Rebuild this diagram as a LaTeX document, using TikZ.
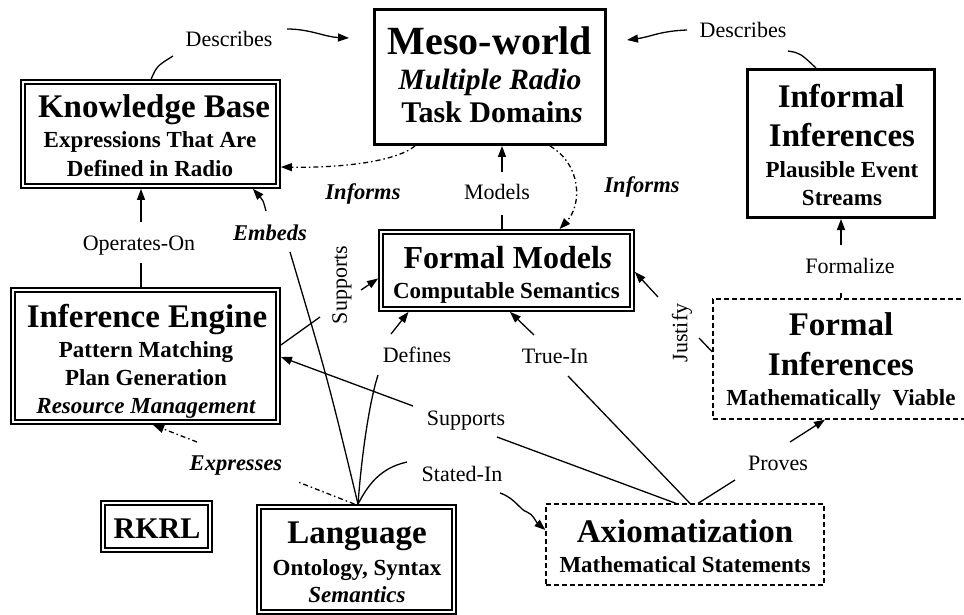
\documentclass[tikz,border=0pt]{standalone}
\usepackage{fontspec}
\setmainfont{Liberation Serif}
\usetikzlibrary{arrows.meta}

\tikzset{
  tbox/.style={draw, line width=3pt, inner sep=0pt, outer sep=1.5pt},
  dbox/.style={draw, double=white, double distance=2.6pt, line width=1.6pt, inner sep=0pt, outer sep=2.9pt},
  kbox/.style={draw, line width=1.3pt, dash pattern=on 5pt off 3pt, inner sep=0pt, outer sep=0.6pt},
  big/.style={font=\fontsize{33}{33}\selectfont\bfseries, inner sep=0pt, anchor=base},
  sub/.style={font=\fontsize{23}{23}\selectfont\bfseries, inner sep=0pt, anchor=base},
  lbl/.style={font=\fontsize{22}{22}\selectfont, inner sep=0pt, anchor=base},
  ilbl/.style={font=\fontsize{22.5}{22.5}\selectfont\bfseries\itshape, inner sep=0pt, anchor=base},
  conn/.style={line width=1.3pt},
  arr/.style={conn, -{Triangle[length=11pt,width=8pt]}},
  dd/.style={conn, dash pattern=on 5pt off 3pt on 1.5pt off 3pt},
}

\begin{document}
\begin{tikzpicture}[x=1pt, y=-1pt]
\fill[white] (0,0) rectangle (964,615);
\useasboundingbox (0,0) rectangle (964,615);

% ---- boxes ----
\node[tbox, minimum width=231pt, minimum height=135pt] (meso) at (490,77) {};
\node[dbox, minimum width=255pt, minimum height=104pt] (kb) at (150.5,134) {};
\node[dbox, minimum width=251pt, minimum height=77pt] (fm) at (506.5,270.5) {};
\node[dbox, minimum width=265pt, minimum height=132pt] (ie) at (145.5,356) {};
\node[dbox, minimum width=107pt, minimum height=47pt] (rkrl) at (156.5,526.5) {};
\node[dbox, minimum width=195pt, minimum height=105pt] (lang) at (356.5,559.5) {};
\node[kbox, minimum width=278pt, minimum height=81pt] (axio) at (685,544.5) {};
\node[kbox, minimum width=256pt, minimum height=120pt] (finf) at (841,359) {};
\node[tbox, minimum width=187pt, minimum height=148pt] (inf) at (841,143.5) {};

% ---- box texts ----
\node[big, font=\fontsize{40}{40}\selectfont\bfseries] (meso1) at (490,55) {Meso-world};
\node[sub, font=\fontsize{29.5}{29.5}\selectfont\bfseries\itshape] (meso2) at (490,90) {Multiple Radio};
\node[sub, font=\fontsize{30}{30}\selectfont\bfseries] (meso3) at (492,123) {Task Domain\textit{s}};

\node[big] (kb1) at (154,118) {Knowledge Base};
\node[sub] (kb2) at (150,148) {Expressions That Are};
\node[sub] (kb3) at (150,177) {Defined in Radio};

\node[big, font=\fontsize{32}{32}\selectfont\bfseries] (fm1) at (508,268) {Formal Model\textit{s}};
\node[sub] (fm2) at (506.5,298) {Computable Semantics};

\node[big] (ie1) at (147,327) {Inference Engine};
\node[sub] (ie2) at (146,357) {Pattern Matching};
\node[sub] (ie3) at (146,385) {Plan Generation};
\node[sub, font=\fontsize{23}{23}\selectfont\bfseries\itshape] (ie4) at (146,413) {Resource Management};

\node[big, font=\fontsize{30}{30}\selectfont\bfseries] (rkrl1) at (157,538) {RKRL};

\node[big] (lang1) at (357,543) {Language};
\node[sub] (lang2) at (357,575) {Ontology, Syntax};
\node[sub, font=\fontsize{23}{23}\selectfont\bfseries\itshape] (lang3) at (357,602) {Semantics};

\node[big] (axio1) at (685,542) {Axiomatization};
\node[sub] (axio2) at (685,572) {Mathematical Statements};

\node[big] (finf1) at (841,335) {Formal};
\node[big] (finf2) at (841,375) {Inferences};
\node[sub] (finf3) at (841,405) {Mathematically\ \ Viable};

\node[big] (inf1) at (841,108) {Informal};
\node[big] (inf2) at (842,147) {Inferences};
\node[sub] (inf3) at (842,178) {Plausible Event};
\node[sub] (inf4) at (842,205) {Streams};

% ---- connector labels ----
\node[lbl] (ldl) at (229,47) {Describes};
\node[lbl] (ldr) at (743,38) {Describes};
\node[ilbl] (linl) at (363,200) {Informs};
\node[ilbl] (linr) at (642,193) {Informs};
\node[lbl] (lmod) at (497,200) {Models};
\node[lbl] (lop) at (139,250) {Operates-On};
\node[ilbl] (lemb) at (270,240) {Embeds};
\node[lbl, rotate=90, anchor=center] (lsv) at (342,285) {Supports};
\node[lbl] (ldef) at (417,362) {Defines};
\node[lbl] (lsh) at (466,425) {Supports};
\node[lbl] (ltru) at (555,363) {True-In};
\node[lbl] (lsta) at (462,481) {Stated-In};
\node[lbl] (lpro) at (778,470) {Proves};
\node[lbl, rotate=90, anchor=center] (ljus) at (682,333) {Justify};
\node[lbl] (lfor) at (850,273) {Formalize};
\node[ilbl] (lexp) at (236,470) {Expresses};

% ---- free ends of the split connectors ----
\coordinate (dlA) at (173,56);
\coordinate (dlB) at (287,29);
\coordinate (dlC) at (349,38);
\coordinate (drA) at (687,30);
\coordinate (drB) at (627,40);
\coordinate (drC) at (788,51);
\coordinate (mdA) at (502,215);
\coordinate (mdB) at (502,172);
\coordinate (opA) at (141,263);
\coordinate (opB) at (141,222);
\coordinate (emA) at (290,252);
\coordinate (emB) at (266,211);
\coordinate (svA) at (320,317);
\coordinate (svB) at (361,290);
\coordinate (dfA) at (378,375);
\coordinate (dfB) at (391,334);
\coordinate (shA) at (497,437);
\coordinate (shB) at (413,406);
\coordinate (tiA) at (568,376);
\coordinate (tiB) at (534,335);
\coordinate (pvA) at (735,480);
\coordinate (pvB) at (790,442);
\coordinate (jsA) at (699,338);
\coordinate (jsB) at (658,297);
\coordinate (fzA) at (841,293);
\coordinate (fzB) at (841,245);
\coordinate (stA) at (407,462);
\coordinate (stB) at (500,493);
\coordinate (exA) at (298,482);
\coordinate (exB) at (197,442);

% ---- connectors ----
% Describes (left)
\draw[conn] ([xshift=131pt]kb.north west) .. controls (157,66) .. (dlA);
\draw[arr] (dlB) .. controls (310,29) and (325,37) .. (dlC);
% Describes (right)
\draw[arr] (drA) .. controls (660,31) and (650,37) .. (drB);
\draw[conn] (drC) .. controls (800,53) .. ([xshift=70pt]inf.north west);
% Informs
\draw[dd, arr] ([xshift=-75pt]meso.south) .. controls (395,162) and (340,168) .. ([yshift=-33pt]kb.east);
\draw[dd, arr] ([xshift=60pt]meso.south) .. controls (582,165) and (582,205) .. ([xshift=53pt]fm.north);
% Models
\draw[conn] (fm.north -| mdA) -- (mdA);
\draw[arr] (mdB) -- (meso.south -| mdB);
% Operates-On
\draw[conn] (ie.north -| opA) -- (opA);
\draw[arr] (opB) -- (kb.south -| opB);
% Embeds
\draw[conn] ([xshift=1.5pt]lang.north) .. controls (328,380) .. (emA);
\draw[arr] (emB) .. controls (263,200) .. ([xshift=-28pt]kb.south east);
% Supports (vertical label)
\draw[conn] ([yshift=11pt]ie.east) -- (svA);
\draw[arr] (svB) -- ([yshift=-8pt]fm.west);
% Defines
\draw[conn] ([xshift=1.5pt]lang.north) .. controls (362,450) and (370,400) .. (dfA);
\draw[arr] (dfB) -- ([xshift=-98pt]fm.south);
% Supports (horizontal label)
\draw[conn] ([xshift=-9pt]axio.north) -- (shA);
\draw[arr] (shB) -- ([yshift=-1pt]ie.east);
% True-In
\draw[conn] ([xshift=5pt]axio.north) -- (tiA);
\draw[arr] (tiB) -- ([xshift=3.5pt]fm.south);
% Proves
\draw[conn] ([xshift=13pt]axio.north) -- (pvA);
\draw[arr] (pvB) -- ([xshift=-16pt]finf.south);
% Justify
\draw[conn] ([yshift=7pt]finf.west) -- (jsA);
\draw[arr] (jsB) -- ([yshift=-1.5pt]fm.east);
% Formalize
\draw[conn] (finf.north) -- (fzA);
\draw[arr] (fzB) -- (inf.south);
% Stated-In
\draw[conn] ([xshift=1.5pt]lang.north) .. controls (368,485) and (380,468) .. (stA);
\draw[arr] (stB) .. controls (515,498) and (520,510) .. (527,512)
  .. controls (533,514) and (536,522) .. ([yshift=14.5pt]axio.west);
% Expresses
\draw[dd] ([xshift=-2pt]lang.north) -- (exA);
\draw[dd, arr] (exB) -- ([xshift=7.5pt]ie.south);
\end{tikzpicture}
\end{document}
